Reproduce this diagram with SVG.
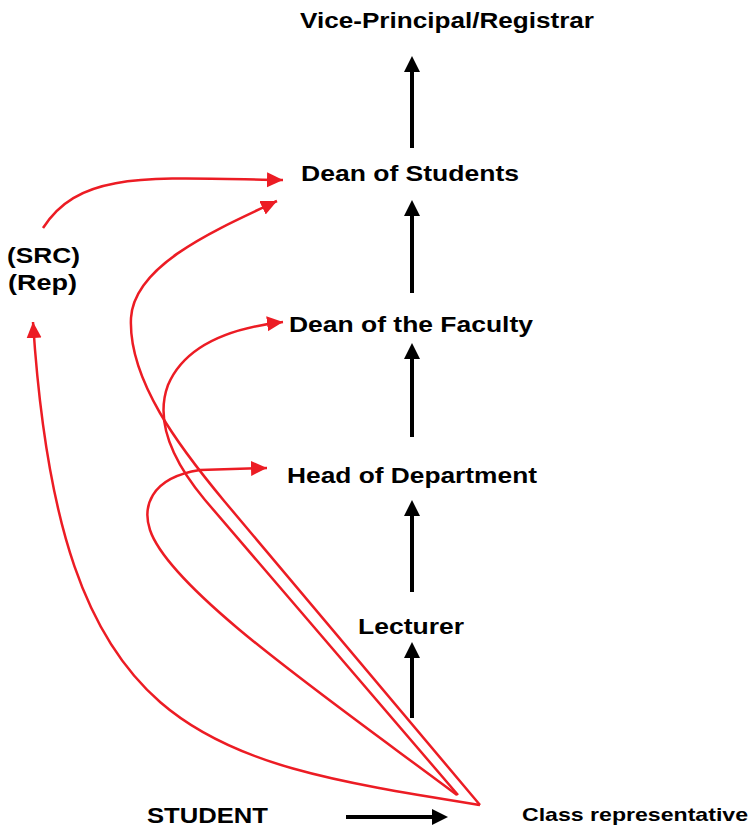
<svg xmlns="http://www.w3.org/2000/svg" width="753" height="828" viewBox="0 0 753 828">
<style>
.lbl{font-family:"Liberation Sans",Arial,sans-serif;font-weight:bold;font-size:22.5px;fill:#000}
.small{font-size:19px}
.blk{stroke:#000;stroke-width:4;fill:none}
.red{stroke:#ec1c24;stroke-width:2.5;fill:none;marker-end:url(#rh)}
</style>
<defs>
<marker id="bh" markerUnits="userSpaceOnUse" markerWidth="17" markerHeight="17" refX="0" refY="8" orient="auto">
<path d="M0,0 L16,8 L0,16 z" fill="#000"/>
</marker>
<marker id="rh" markerUnits="userSpaceOnUse" markerWidth="17" markerHeight="16" refX="16" refY="7.5" orient="auto">
<path d="M0,0 L16,7.5 L0,15 z" fill="#ec1c24"/>
</marker>
</defs>
<rect width="753" height="828" fill="#fff"/>
<g id="vice-principal"><text class="lbl" x="300" y="28" textLength="294" lengthAdjust="spacingAndGlyphs">Vice-Principal/Registrar</text></g>
<g id="dean-students"><text class="lbl" x="301" y="181" textLength="218" lengthAdjust="spacingAndGlyphs">Dean of Students</text></g>
<g id="dean-faculty"><text class="lbl" x="289" y="332" textLength="244" lengthAdjust="spacingAndGlyphs">Dean of the Faculty</text></g>
<g id="head-department"><text class="lbl" x="287" y="483" textLength="250" lengthAdjust="spacingAndGlyphs">Head of Department</text></g>
<g id="lecturer"><text class="lbl" x="358" y="634" textLength="106" lengthAdjust="spacingAndGlyphs">Lecturer</text></g>
<g id="src-rep"><text class="lbl" x="7" y="263" textLength="73" lengthAdjust="spacingAndGlyphs">(SRC)</text><text class="lbl" x="8" y="290" textLength="69" lengthAdjust="spacingAndGlyphs">(Rep)</text></g>
<g id="student"><text class="lbl" x="147" y="823" textLength="121" lengthAdjust="spacingAndGlyphs">STUDENT</text></g>
<g id="class-rep"><text class="lbl small" x="522" y="821" textLength="226" lengthAdjust="spacingAndGlyphs">Class representative</text></g>
<g id="connectors">
<line class="blk" x1="412" y1="148" x2="412" y2="72" marker-end="url(#bh)"/>
<line class="blk" x1="412" y1="293" x2="412" y2="216" marker-end="url(#bh)"/>
<line class="blk" x1="412" y1="437" x2="412" y2="359" marker-end="url(#bh)"/>
<line class="blk" x1="412" y1="592" x2="412" y2="516" marker-end="url(#bh)"/>
<line class="blk" x1="412" y1="718" x2="412" y2="658" marker-end="url(#bh)"/>
<line class="blk" x1="346" y1="817" x2="432" y2="817" marker-end="url(#bh)"/>
<path class="red" d="M480,805 C200,760 60,740 33,322"/>
<path class="red" d="M43,228 C80,170 150,178 283,180"/>
<path class="red" d="M480,805 L225,502 C180,448 128,380 131,318 C134,265 215,230 277,201"/>
<path class="red" d="M458,795 L205,500 C170,458 155,420 168,385 C185,345 230,328 283,322"/>
<path class="red" d="M457,795 C330,700 170,590 150,530 C143,509 148,478 200,470 L267,468"/>
</g>
</svg>
